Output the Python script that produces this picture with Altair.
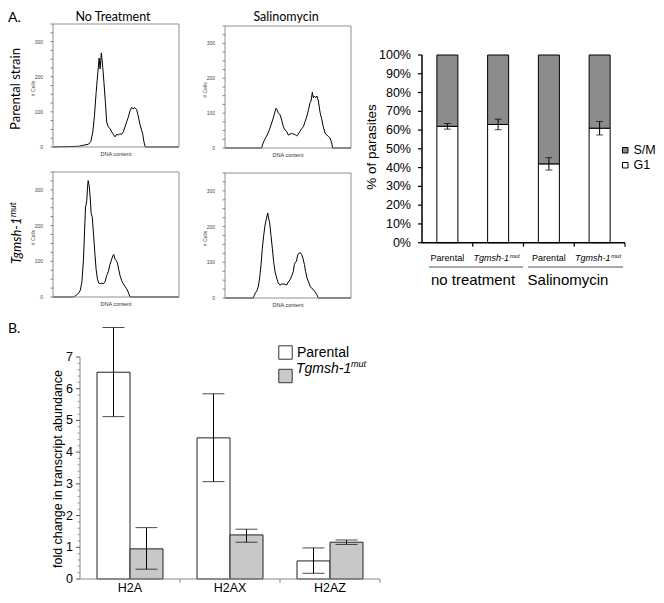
import altair as alt
import pandas as pd

W, H = 648, 587
FONT = "Liberation Sans"
TFONT = "Lato"

# ---------------- Panel A: DNA content histograms (channel 0-1000 vs # cells) ----------------
h1_x = [0, 203, 242, 282, 300, 316, 329, 342, 355, 366, 374, 384, 395, 405, 416, 426, 439, 453, 466, 479,
        492, 505, 518, 532, 545, 558, 571, 584, 597, 611, 624, 637, 650, 663, 676, 689, 703, 711, 721, 732, 1000]
h1_y = [0, 2, 5, 8, 16, 43, 89, 153, 208, 253, 222, 268, 226, 181, 126, 71, 57, 52, 43, 36,
        29, 36, 34, 38, 36, 43, 57, 71, 84, 103, 112, 109, 112, 107, 89, 66, 48, 39, 16, 0, 0]

h2_x = [0, 291, 299, 312, 325, 339, 352, 365, 378, 392, 405, 413, 423, 437, 450, 463, 476, 489, 503, 516,
        529, 542, 556, 569, 582, 595, 608, 622, 635, 648, 661, 675, 683, 693, 701, 709, 720, 730, 741, 754,
        767, 780, 794, 807, 820, 833, 847, 854, 1000]
h2_y = [0, 0, 11, 22, 31, 40, 52, 66, 80, 98, 114, 110, 101, 95, 80, 61, 52, 48, 37, 40,
        42, 40, 39, 34, 40, 48, 55, 61, 75, 89, 107, 130, 135, 160, 144, 149, 144, 149, 135, 103,
        84, 61, 43, 37, 34, 29, 15, 0, 0]

h3_x = [0, 163, 176, 189, 203, 216, 229, 242, 250, 258, 263, 268, 274, 279, 287, 295, 303, 311, 321, 332,
        342, 353, 363, 374, 387, 400, 413, 426, 439, 453, 466, 474, 482, 492, 500, 511, 521, 532, 545, 558,
        571, 584, 597, 611, 1000]
h3_y = [0, 0, 3, 6, 11, 18, 41, 106, 179, 252, 259, 270, 307, 326, 312, 280, 234, 225, 179, 124,
        78, 50, 39, 37, 39, 37, 43, 60, 71, 92, 106, 115, 119, 106, 103, 96, 78, 60, 46, 37,
        30, 23, 14, 0, 0]

h4_x = [0, 225, 233, 243, 254, 265, 275, 286, 296, 307, 317, 328, 339, 347, 354, 365, 376, 386, 397, 410,
        423, 437, 450, 463, 476, 489, 503, 516, 529, 542, 550, 558, 566, 577, 585, 598, 608, 619, 630, 640,
        651, 661, 675, 688, 701, 714, 728, 741, 1000]
h4_y = [0, 0, 8, 15, 21, 33, 56, 93, 138, 175, 202, 221, 238, 221, 212, 175, 138, 102, 74, 56,
        42, 36, 39, 39, 39, 36, 45, 51, 61, 74, 93, 100, 102, 120, 125, 127, 122, 111, 94, 74,
        56, 47, 33, 27, 24, 17, 10, 0, 0]

hist_ticks = list(range(0, 351, 25))
hist_labels = [0, 100, 200, 300]

# ---------------- Panel A: stacked cell-cycle bars ----------------
cats = ["Parental | no treatment", "Tgmsh-1mut | no treatment",
        "Parental | Salinomycin", "Tgmsh-1mut | Salinomycin"]
phases = ["S/M", "G1"]
g1_pct = [62, 63, 42, 61]
g1_err = [1.5, 2.8, 3.3, 3.6]
pct_ticks = list(range(0, 101, 10))

# ---------------- Panel B: transcript abundance ----------------
genes = ["H2A", "H2AX", "H2AZ"]
strains = ["Parental", "Tgmsh-1mut"]
par_val = [6.52, 4.45, 0.57]
par_lo = [5.12, 3.07, 0.18]
par_hi = [7.93, 5.84, 0.98]
mut_val = [0.95, 1.39, 1.16]
mut_lo = [0.31, 1.16, 1.09]
mut_hi = [1.62, 1.57, 1.23]
major_b = list(range(0, 8))
minor_b = [round(v / 5, 1) for v in range(0, 36) if v % 5]

ONE = pd.DataFrame({"k": [0]})


def text_layer(t, x, y, size, font=TFONT, angle=0, align="center", baseline="alphabetic",
               style="normal", dx=0, dy=0, color="black"):
    return alt.Chart(pd.DataFrame({"t": [t]})).mark_text(
        font=font, fontSize=size, angle=angle, align=align, baseline=baseline,
        fontStyle=style, dx=dx, dy=dy, color=color
    ).encode(text="t:N", x=alt.value(x), y=alt.value(y))


def hbar(x0, x1, y, w, color):
    return alt.Chart(ONE).mark_rect(color=color, strokeWidth=0).encode(
        x=alt.value(x0), x2=alt.value(x1), y=alt.value(y - w / 2), y2=alt.value(y + w / 2))


def polyline(xs, ys, xscale, yscale, color, width, group=None):
    """axis / frame line drawn as a path through scale-mapped points"""
    d = {"px": xs, "py": ys, "o": list(range(len(xs)))}
    enc = dict(x=alt.X("px:Q", scale=xscale, axis=None), y=alt.Y("py:Q", scale=yscale, axis=None),
               order="o:Q")
    if group is not None:
        d["g"] = group
        enc["detail"] = "g:N"
    return alt.Chart(pd.DataFrame(d)).mark_line(color=color, strokeWidth=width, strokeCap="butt").encode(**enc)


def tick_set(values, x0, x1, yscale, color, width):
    """short horizontal tick segments at the given axis values"""
    xs, ys, gs = [], [], []
    for v in values:
        xs += [0, 1]
        ys += [v, v]
        gs += [str(v), str(v)]
    return polyline(xs, ys, alt.Scale(domain=[0, 1], range=[x0, x1]), yscale, color, width, gs)


layers = []
lines = []


def hist_panel(xs, ys, xr, yr):
    df = pd.DataFrame({"dna": xs, "cells": ys})

    def sx():
        return alt.Scale(domain=[0, 1000], range=xr, nice=False)

    def sy():
        return alt.Scale(domain=[0, 350], range=yr, nice=False)

    lines.append(polyline([0, 0, 1000, 1000, 0], [0, 350, 350, 0, 0], sx(), sy(), "#8f8f8f", 1))
    line = alt.Chart(df).mark_line(color="black", strokeWidth=1).encode(
        x=alt.X("dna:Q", scale=sx(), axis=None), y=alt.Y("cells:Q", scale=sy(), axis=None))
    lines.append(tick_set(hist_ticks, xr[0] - 2.5, xr[0], sy(), "#666", 0.8))
    labs = alt.Chart(pd.DataFrame({"v": hist_labels, "s": [str(v) for v in hist_labels]})).mark_text(
        font=FONT, fontSize=5, color="#444", align="right", baseline="middle").encode(
        x=alt.value(xr[0] - 10), y=alt.Y("v:Q", scale=sy(), axis=None), text="s:N")
    ytitle = text_layer("# Cells", xr[0] - 20, (yr[0] + yr[1]) / 2 + 3, 5, font=FONT, angle=270,
                        baseline="middle", color="#444")
    xtitle = text_layer("DNA content", (xr[0] + xr[1]) / 2, yr[0] + 7, 5.5, font=FONT,
                        baseline="middle", color="#333")
    layers.extend([line, labs, ytitle, xtitle])


hist_panel(h1_x, h1_y, [45, 171], [139, 16])
hist_panel(h2_x, h2_y, [217, 343], [140, 18])
hist_panel(h3_x, h3_y, [45, 171], [289, 164])
hist_panel(h4_x, h4_y, [217, 343], [290, 165])

# ---- stacked bar chart ----
stack_rows = []
for c, g in zip(cats, g1_pct):
    stack_rows.append({"cat": c, "phase": "G1", "lo": 0, "hi": g})
    stack_rows.append({"cat": c, "phase": "S/M", "lo": g, "hi": 100})
stack_df = pd.DataFrame(stack_rows)
err_df = pd.DataFrame({"cat": cats, "elo": [g - e for g, e in zip(g1_pct, g1_err)],
                       "ehi": [g + e for g, e in zip(g1_pct, g1_err)]})
SX0, SX1, SY0, SY1 = 414, 617, 234.7, 47


def ssx():
    return alt.Scale(domain=cats, range=[SX0, SX1], paddingInner=0.586, paddingOuter=0.293)


def ssy():
    return alt.Scale(domain=[0, 100], range=[SY0, SY1], nice=False)


s_bars = alt.Chart(stack_df).mark_bar(stroke="black", strokeWidth=1).encode(
    x=alt.X("cat:N", scale=ssx(), axis=None),
    y=alt.Y("lo:Q", scale=ssy(), axis=None),
    y2="hi:Q",
    color=alt.Color("phase:N", scale=alt.Scale(domain=phases, range=["#8c8c8c", "#ffffff"]),
                    legend=alt.Legend(orient="none", legendX=611, legendY=136, title=None,
                                      symbolType="square", symbolSize=30, symbolStrokeColor="black",
                                      symbolStrokeWidth=1, labelFont=FONT, labelFontSize=12.5,
                                      labelColor="black", labelOffset=2, rowPadding=2, padding=0)))
s_rule = alt.Chart(err_df).mark_rule(color="black", strokeWidth=1).encode(
    x=alt.X("cat:N", scale=ssx(), axis=None),
    y=alt.Y("elo:Q", scale=ssy(), axis=None), y2="ehi:Q")
s_cap_lo = alt.Chart(err_df).mark_tick(color="black", thickness=1, size=7).encode(
    x=alt.X("cat:N", scale=ssx(), axis=None), y=alt.Y("elo:Q", scale=ssy(), axis=None))
s_cap_hi = alt.Chart(err_df).mark_tick(color="black", thickness=1, size=7).encode(
    x=alt.X("cat:N", scale=ssx(), axis=None), y=alt.Y("ehi:Q", scale=ssy(), axis=None))

pct_df = pd.DataFrame({"v": pct_ticks, "s": [f"{v}%" for v in pct_ticks]})
s_ylabs = alt.Chart(pct_df).mark_text(font=FONT, fontSize=12.5, align="right", baseline="middle").encode(
    x=alt.value(SX0 - 11), y=alt.Y("v:Q", scale=ssy(), axis=None), text="s:N")

par_cats = pd.DataFrame({"cat": [cats[0], cats[2]], "t": ["Parental", "Parental"]})
mut_cats = pd.DataFrame({"cat": [cats[1], cats[3]], "t": ["Tgmsh-1", "Tgmsh-1"], "s": ["mut", "mut"]})
s_lab_par = alt.Chart(par_cats).mark_text(font=FONT, fontSize=9, baseline="alphabetic").encode(
    x=alt.X("cat:N", scale=ssx(), axis=None), y=alt.value(253), text="t:N")
s_lab_mut = alt.Chart(mut_cats).mark_text(font=FONT, fontSize=9, fontStyle="italic", align="right",
                                          dx=11, baseline="alphabetic").encode(
    x=alt.X("cat:N", scale=ssx(), axis=None), y=alt.value(253), text="t:N")
s_lab_sup = alt.Chart(mut_cats).mark_text(font=FONT, fontSize=6, fontStyle="italic", align="left",
                                          dx=11.5, dy=-3.5, baseline="alphabetic").encode(
    x=alt.X("cat:N", scale=ssx(), axis=None), y=alt.value(253), text="s:N")

layers += [s_bars, s_rule, s_cap_lo, s_cap_hi, s_ylabs, s_lab_par, s_lab_mut, s_lab_sup,
           text_layer("% of parasites", 364, 139, 13.5, font=FONT, angle=270, baseline="middle")]
n_c = len(cats)
s_lin = alt.Scale(domain=[0, n_c], range=[SX0, SX1])
lines.append(polyline([0, 0, n_c], [100, 0, 0], s_lin, ssy(), "black", 1.5))
lines.append(tick_set(pct_ticks, SX0 - 4, SX0, ssy(), "black", 1.2))
xt_x, xt_y, xt_g = [], [], []
for i in range(1, n_c + 1):
    xt_x += [i, i]
    xt_y += [0, 1]
    xt_g += [str(i), str(i)]
lines.append(polyline(xt_x, xt_y, alt.Scale(domain=[0, n_c], range=[SX0, SX1]),
                      alt.Scale(domain=[0, 1], range=[SY0, SY0 + 4]), "black", 1.2, xt_g))

# ---- panel B grouped bars ----
b_df = pd.DataFrame({
    "gene": genes + genes,
    "strain": [strains[0]] * 3 + [strains[1]] * 3,
    "val": par_val + mut_val,
    "lo": par_lo + mut_lo,
    "hi": par_hi + mut_hi,
})
BX0, BX1, BY0, BY7 = 72, 372, 571, 349


def bx():
    return alt.Scale(domain=genes, range=[BX0, BX1], paddingInner=0.34, paddingOuter=0.17)


def by():
    return alt.Scale(domain=[0, 7], range=[BY0, BY7], nice=False)


def bo():
    return alt.Scale(domain=strains, paddingInner=0, paddingOuter=0)


b_bars = alt.Chart(b_df).mark_bar(stroke="#222", strokeWidth=1).encode(
    x=alt.X("gene:N", scale=bx(), axis=None),
    xOffset=alt.XOffset("strain:N", scale=bo()),
    y=alt.Y("val:Q", scale=by(), axis=None),
    color=alt.Color("strain:N", scale=alt.Scale(domain=strains, range=["#ffffff", "#c8c8c8"]),
                    legend=alt.Legend(orient="none", legendX=270, legendY=337, title=None,
                                      symbolType="square", symbolSize=180, symbolStrokeColor="#333",
                                      symbolStrokeWidth=1,
                                      labelExpr="datum.label == 'Parental' ? 'Parental' : ''",
                                      labelFont=FONT, labelFontSize=14, labelColor="black",
                                      labelOffset=4, rowPadding=4.5, padding=0)))
b_rule = alt.Chart(b_df).mark_rule(color="black", strokeWidth=1).encode(
    x=alt.X("gene:N", scale=bx(), axis=None),
    xOffset=alt.XOffset("strain:N", scale=bo()),
    y=alt.Y("lo:Q", scale=by(), axis=None), y2="hi:Q")
b_cap_lo = alt.Chart(b_df).mark_tick(color="black", thickness=1, size=22).encode(
    x=alt.X("gene:N", scale=bx(), axis=None), xOffset=alt.XOffset("strain:N", scale=bo()),
    y=alt.Y("lo:Q", scale=by(), axis=None))
b_cap_hi = alt.Chart(b_df).mark_tick(color="black", thickness=1, size=22).encode(
    x=alt.X("gene:N", scale=bx(), axis=None), xOffset=alt.XOffset("strain:N", scale=bo()),
    y=alt.Y("hi:Q", scale=by(), axis=None))

b_major = pd.DataFrame({"v": major_b, "s": [str(v) for v in major_b]})
b_ylabs = alt.Chart(b_major).mark_text(font=FONT, fontSize=12.5, align="right", baseline="middle").encode(
    x=alt.value(BX0 - 7), y=alt.Y("v:Q", scale=by(), axis=None), text="s:N")
b_xlabs = alt.Chart(pd.DataFrame({"gene": genes})).mark_text(
    font=FONT, fontSize=12.5, baseline="alphabetic").encode(
    x=alt.X("gene:N", scale=bx(), axis=None), y=alt.value(584), text="gene:N")

layers += [b_bars, b_rule, b_cap_lo, b_cap_hi, b_ylabs, b_xlabs,
           text_layer("fold change in transcript abundance", 50, 461, 12.5, font=FONT, angle=270,
                      baseline="middle")]
n_g = len(genes)
lines.append(polyline([0, 0, n_g], [7, 0, 0], alt.Scale(domain=[0, n_g], range=[BX0, BX1]), by(), "#888", 1))
lines.append(tick_set(major_b, BX0 - 4, BX0, by(), "#555", 1))
lines.append(tick_set(minor_b, BX0 - 2.5, BX0, by(), "#999", 1))
bt_x, bt_y, bt_g = [], [], []
for i in range(1, n_g + 1):
    bt_x += [i, i]
    bt_y += [0, 1]
    bt_g += [str(i), str(i)]
lines.append(polyline(bt_x, bt_y, alt.Scale(domain=[0, n_g], range=[BX0, BX1]),
                      alt.Scale(domain=[0, 1], range=[BY0, BY0 + 4]), "#888", 1, bt_g))

# ---- annotations ----
lines += [hbar(421, 515, 259, 1, "#555"), hbar(520, 615, 259, 1, "#555")]
layers += [
    text_layer("A.", 0, 14, 14, align="left"),
    text_layer("No Treatment", 105, 13, 12.5),
    text_layer("Salinomycin", 278, 13, 12.5),
    text_layer("Parental strain", 8, 81, 13, angle=270, baseline="middle"),
    text_layer("Tgmsh-1", 9, 256, 13, angle=270, align="left", baseline="middle", style="italic"),
    text_layer("mut", 9, 256, 9, angle=270, align="left", baseline="middle", style="italic", dx=47, dy=-4),
    text_layer("B.", 0, 325, 14, align="left"),
    text_layer("no treatment", 465, 277, 15, font=FONT),
    text_layer("Salinomycin", 560, 277, 15, font=FONT),
    text_layer("Tgmsh-1", 288, 361, 14, font=FONT, align="left", baseline="middle", style="italic"),
    text_layer("mut", 288, 361, 9, font=FONT, align="left", baseline="middle", style="italic", dx=55, dy=-5),
]

chart = alt.layer(*layers, *lines).resolve_scale(
    x="independent", y="independent", color="independent", xOffset="independent"
).properties(
    width=W, height=H, padding=0, autosize=alt.AutoSizeParams(type="none")
).configure_view(stroke=None)

chart.save("out.html", embed_options={"renderer": "svg", "actions": False})
